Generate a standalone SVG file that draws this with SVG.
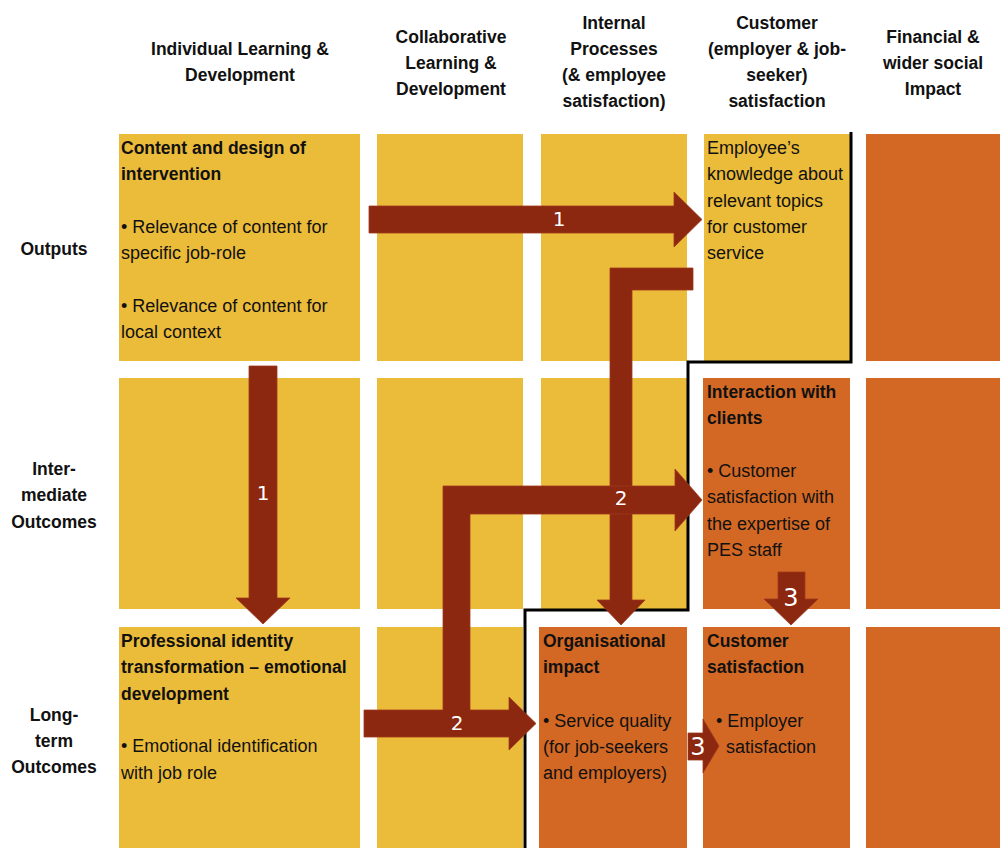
<svg xmlns="http://www.w3.org/2000/svg" width="1000" height="848" viewBox="0 0 1000 848">
<style>
.y{fill:#EBBB3A}
.o{fill:#D36824}
.h{font-family:"Liberation Sans",Arial,sans-serif;font-size:17.5px;font-weight:bold;fill:#111;text-anchor:middle}
.b{font-family:"Liberation Sans",Arial,sans-serif;font-size:17.5px;font-weight:bold;fill:#111}
.t{font-family:"Liberation Sans",Arial,sans-serif;font-size:18px;fill:#111}
.n{font-family:"DejaVu Sans",sans-serif;font-size:20px;fill:#fff;text-anchor:middle}
.n3{font-family:"DejaVu Sans",sans-serif;font-size:24px;fill:#fff;text-anchor:middle}
.a{fill:#8C2710;stroke:#9E3A1C;stroke-width:0.8}
</style>
<rect width="1000" height="848" fill="#fff"/>
<g id="headers">
<text class="h" x="240" y="55">Individual Learning &amp;</text>
<text class="h" x="240" y="81">Development</text>
<text class="h" x="451" y="43">Collaborative</text>
<text class="h" x="451" y="69">Learning &amp;</text>
<text class="h" x="451" y="95">Development</text>
<text class="h" x="614" y="29">Internal</text>
<text class="h" x="614" y="55">Processes</text>
<text class="h" x="614" y="81">(&amp; employee</text>
<text class="h" x="614" y="107">satisfaction)</text>
<text class="h" x="777" y="29">Customer</text>
<text class="h" x="777" y="55">(employer &amp; job-</text>
<text class="h" x="777" y="81">seeker)</text>
<text class="h" x="777" y="107">satisfaction</text>
<text class="h" x="933" y="43">Financial &amp;</text>
<text class="h" x="933" y="69">wider social</text>
<text class="h" x="933" y="95">Impact</text>
</g>
<g id="row-labels">
<text class="h" x="54" y="255">Outputs</text>
<text class="h" x="54" y="475">Inter-</text>
<text class="h" x="54" y="501">mediate</text>
<text class="h" x="54" y="528">Outcomes</text>
<text class="h" x="54" y="721">Long-</text>
<text class="h" x="54" y="747">term</text>
<text class="h" x="54" y="773">Outcomes</text>
</g>
<g id="cell-r1c1"><rect class="y" x="119" y="134" width="241" height="227"/>
<text class="b" x="121" y="154">Content and design of</text>
<text class="b" x="121" y="180">intervention</text>
<text class="t" x="121" y="233">• Relevance of content for</text>
<text class="t" x="121" y="259">specific job-role</text>
<text class="t" x="121" y="312">• Relevance of content for</text>
<text class="t" x="121" y="338">local context</text>
</g>
<g id="cell-r1c2"><rect class="y" x="377" y="134" width="146" height="227"/></g>
<g id="cell-r1c3"><rect class="y" x="541" y="134" width="146" height="227"/></g>
<g id="cell-r1c4"><rect class="y" x="704" y="134" width="146" height="227"/>
<text class="t" x="707" y="154">Employee’s</text>
<text class="t" x="707" y="180">knowledge about</text>
<text class="t" x="707" y="207">relevant topics</text>
<text class="t" x="707" y="233">for customer</text>
<text class="t" x="707" y="259">service</text>
</g>
<g id="cell-r1c5"><rect class="o" x="866" y="134" width="134" height="227"/></g>
<g id="cell-r2c1"><rect class="y" x="119" y="378" width="241" height="231"/></g>
<g id="cell-r2c2"><rect class="y" x="377" y="378" width="146" height="231"/></g>
<g id="cell-r2c3"><rect class="y" x="541" y="378" width="146" height="231"/></g>
<g id="cell-r2c4"><rect class="o" x="703" y="378" width="147" height="231"/>
<text class="b" x="707" y="398">Interaction with</text>
<text class="b" x="707" y="424">clients</text>
<text class="t" x="707" y="477">• Customer</text>
<text class="t" x="707" y="503">satisfaction with</text>
<text class="t" x="707" y="530">the expertise of</text>
<text class="t" x="707" y="556">PES staff</text>
</g>
<g id="cell-r2c5"><rect class="o" x="866" y="378" width="134" height="231"/></g>
<g id="cell-r3c1"><rect class="y" x="119" y="627" width="241" height="221"/>
<text class="b" x="121" y="647">Professional identity</text>
<text class="b" x="121" y="673">transformation – emotional</text>
<text class="b" x="121" y="700">development</text>
<text class="t" x="121" y="752">• Emotional identification</text>
<text class="t" x="121" y="779">with job role</text>
</g>
<g id="cell-r3c2"><rect class="y" x="377" y="627" width="146" height="221"/></g>
<g id="cell-r3c3"><rect class="o" x="539" y="627" width="148" height="221"/>
<text class="b" x="543" y="647">Organisational</text>
<text class="b" x="543" y="673">impact</text>
<text class="t" x="543" y="727">• Service quality</text>
<text class="t" x="543" y="753">(for job-seekers</text>
<text class="t" x="543" y="779">and employers)</text>
</g>
<g id="cell-r3c4"><rect class="o" x="703" y="627" width="147" height="221"/>
<text class="b" x="707" y="647">Customer</text>
<text class="b" x="707" y="673">satisfaction</text>
<text class="t" x="716" y="727">•  Employer</text>
<text class="t" x="726" y="753">satisfaction</text>
</g>
<g id="cell-r3c5"><rect class="o" x="866" y="627" width="134" height="221"/></g>
<g id="boundary"><path d="M851 132 V362 H688 V610 H525 V848" fill="none" stroke="#000" stroke-width="3"/></g>
<g id="connectors">
<path class="a" d="M369 206 H674 V192 L702 219.5 L674 247 V233 H369 Z"/>
<path class="a" d="M249 366 H277 V598 H290 L263 624 L236 598 H249 Z"/>
<path class="a" d="M693 268 V290 H632 V600 H645 L621 625 L597 600 H610 V268 Z"/>
<path class="a" d="M364 710 H443 V486 H675 V469 L702 500 L675 531 V514 H470 V710 H509 V697 L536 723.5 L509 750 V737 H364 Z"/>
<path class="a" d="M778 572 H805 V599 H818 L791 625 L764 599 H778 Z"/>
<path class="a" d="M688 733 H703 V719 L719 746 L703 773 V760 H688 Z"/>
<text class="n" x="559" y="226">1</text>
<text class="n" x="263" y="500">1</text>
<text class="n" x="621" y="505">2</text>
<text class="n" x="457" y="730">2</text>
<text class="n3" x="791" y="606">3</text>
<text class="n3" x="698" y="755">3</text>
</g>
</svg>
